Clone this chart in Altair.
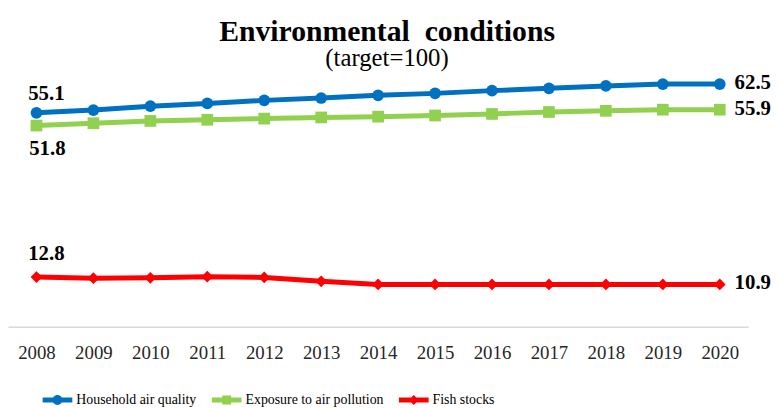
import altair as alt
import pandas as pd

years = [str(y) for y in range(2008, 2021)]
series_names = ["Household air quality", "Exposure to air pollution", "Fish stocks"]
household = [55.1, 55.8, 56.8, 57.5, 58.3, 58.9, 59.6, 60.1, 60.8, 61.4, 62.0, 62.5, 62.5]
exposure = [51.8, 52.4, 53.0, 53.3, 53.6, 53.9, 54.1, 54.4, 54.8, 55.3, 55.6, 55.9, 55.9]
fish = [12.8, 12.5, 12.6, 12.9, 12.7, 11.7, 10.9, 10.9, 10.9, 10.9, 10.9, 10.9, 10.9]
colors = ["#0070C0", "#92D050", "#FF0000"]
markers = ["circle", "square", "diamond"]
legend_paths = [
    "M-3,-0.5H-0.85V0.5H-3Z M0.85,-0.5H3V0.5H0.85Z M-1,0A1,1 0 1,1 1,0A1,1 0 1,1 -1,0Z",
    "M-3,-0.5H-0.9V0.5H-3Z M0.9,-0.5H3V0.5H0.9Z M-0.9,-0.9H0.9V0.9H-0.9Z",
    "M-3,-0.5H-0.5V0.5H-3Z M0.5,-0.5H3V0.5H0.5Z M0,-1L1,0L0,1L-1,0Z",
]

rows = []
for name, vals in zip(series_names, [household, exposure, fish]):
    for y, v in zip(years, vals):
        rows.append({"year": y, "series": name, "value": v})
df = pd.DataFrame(rows)

FONT = "Liberation Serif"

x = alt.X("year:O", scale=alt.Scale(type="point", padding=0.5),
          axis=alt.Axis(title=None, labelAngle=0, ticks=False, domainColor="#D9D9D9",
                        domainWidth=1.5, labelFont=FONT, labelFontSize=19,
                        labelColor="#262626", labelPadding=17, grid=False))
y = alt.Y("value:Q", scale=alt.Scale(domain=[0, 66], nice=False, zero=True), axis=None)
color_plain = alt.Color("series:N", scale=alt.Scale(domain=series_names, range=colors), legend=None)

base = alt.Chart(df).encode(x=x, y=y)

lines = base.mark_line(strokeWidth=5).encode(color=color_plain)
points = base.mark_point(filled=True, opacity=1, size=140).encode(
    color=color_plain,
    shape=alt.Shape("series:N", scale=alt.Scale(domain=series_names, range=markers), legend=None),
)
legend_layer = base.mark_point(filled=True, opacity=1).encode(
    color=alt.Color("series:N", scale=alt.Scale(domain=series_names, range=colors),
                    legend=alt.Legend(title=None, orient="none", direction="horizontal",
                                      legendX=43, legendY=326, symbolSize=100,
                                      symbolStrokeWidth=0, labelFont=FONT, labelFontSize=14,
                                      labelColor="#000000", labelOffset=12, columnPadding=15,
                                      symbolOpacity=1)),
    shape=alt.Shape("series:N", scale=alt.Scale(domain=series_names, range=legend_paths)),
).transform_filter("datum.value < 0")

lab_style = dict(font=FONT, fontSize=21, fontWeight="bold", color="#000000")
lab_blue_first = base.mark_text(align="center", baseline="middle", dx=10, dy=-19, **lab_style).encode(
    text=alt.Text("value:Q", format=".1f")).transform_filter(
    f"datum.year == '2008' && datum.series == '{series_names[0]}'")
lab_green_first = base.mark_text(align="center", baseline="middle", dx=11, dy=24, **lab_style).encode(
    text=alt.Text("value:Q", format=".1f")).transform_filter(
    f"datum.year == '2008' && datum.series == '{series_names[1]}'")
lab_red_first = base.mark_text(align="center", baseline="middle", dx=10, dy=-23, **lab_style).encode(
    text=alt.Text("value:Q", format=".1f")).transform_filter(
    f"datum.year == '2008' && datum.series == '{series_names[2]}'")
lab_last = base.mark_text(align="left", baseline="middle", dx=15, dy=-1, **lab_style).encode(
    text=alt.Text("value:Q", format=".1f")).transform_filter("datum.year == '2020'")

chart = alt.layer(
    lines, points, legend_layer, lab_blue_first, lab_green_first, lab_red_first, lab_last
).resolve_scale(color="independent", shape="independent").properties(
    width=748, height=259,
    autosize="none",
    padding={"left": 0, "top": 61, "right": 23, "bottom": 80},
    title=alt.TitleParams(
        text="Environmental\u00a0 conditions", subtitle="(target=100)",
        font=FONT, fontSize=30, fontWeight="bold", color="#000000",
        subtitleFont=FONT, subtitleFontSize=25, subtitleColor="#000000",
        anchor="middle", dx=9, offset=-1, subtitlePadding=0,
    ),
).configure_view(stroke=None)

chart.save("out.html", embed_options={"renderer": "svg", "actions": False})
